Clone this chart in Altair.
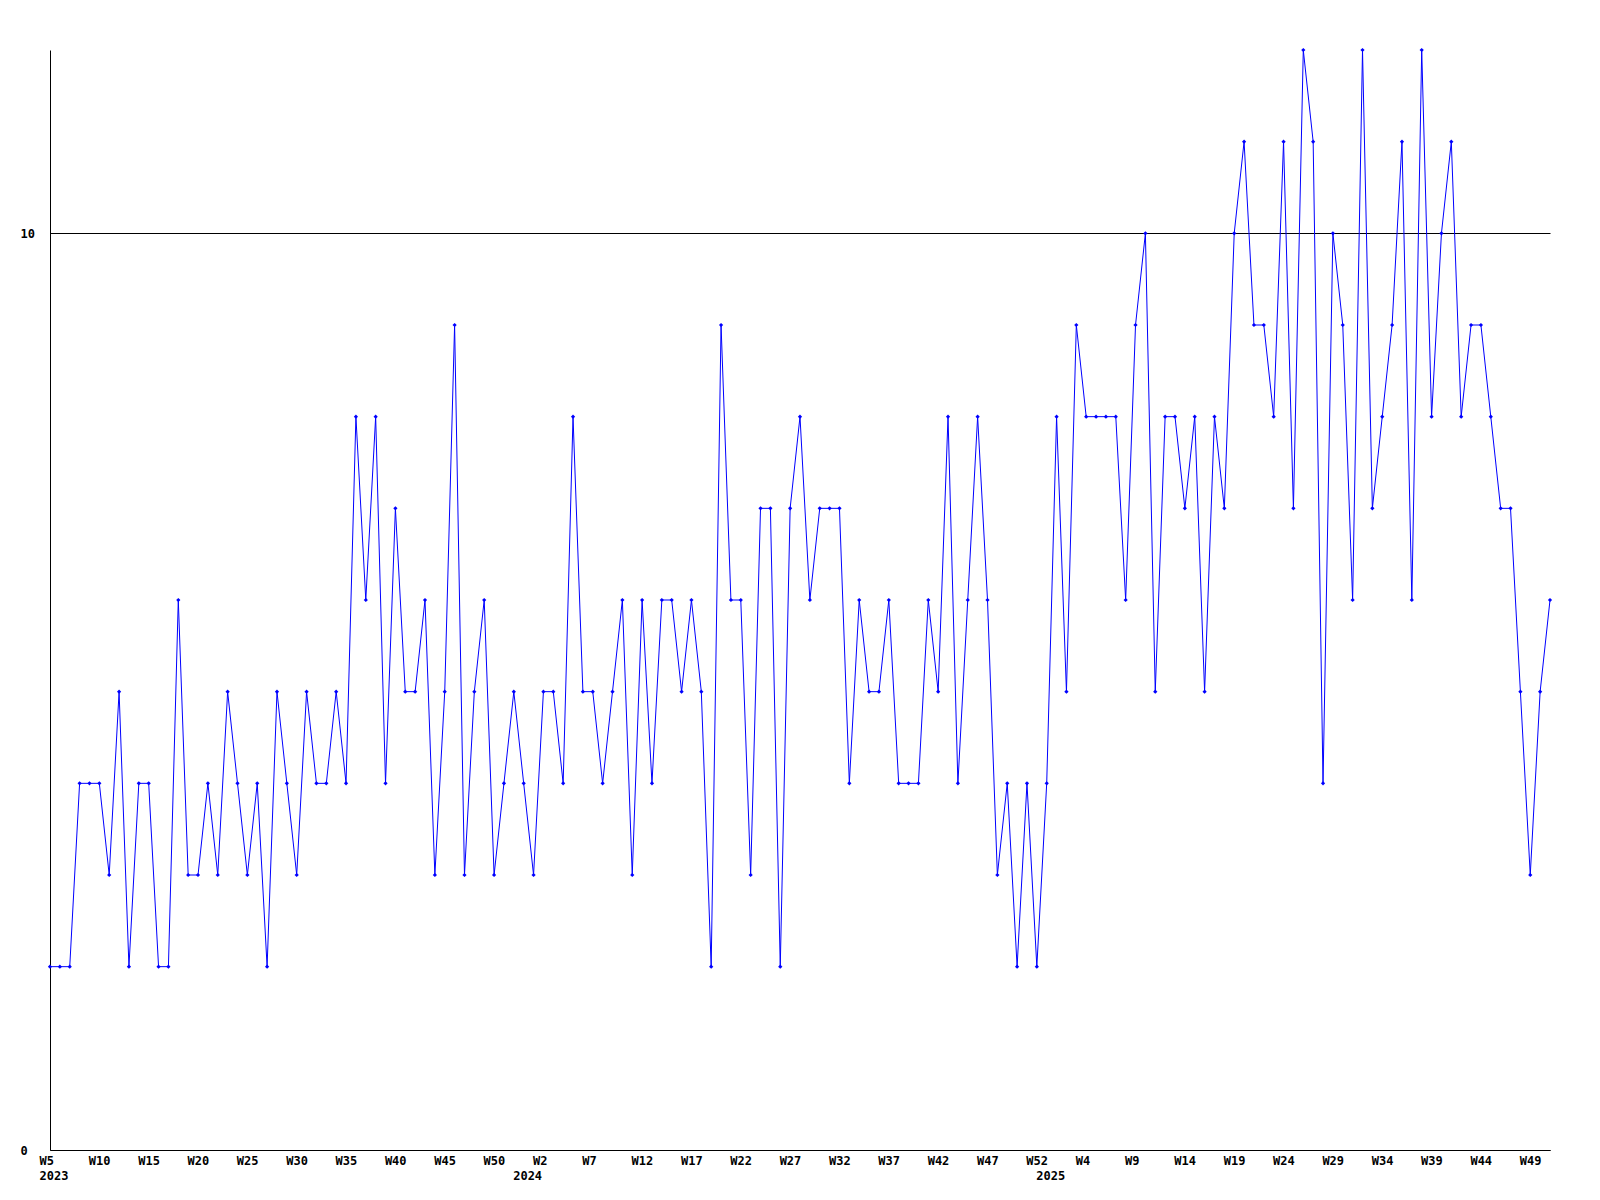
import altair as alt
import pandas as pd

# weekly values, one per week (2023 W5 .. 2025 W52, then one more week)
vals_2023 = [2, 2, 2, 4, 4, 4, 3, 5, 2, 4,
             4, 2, 2, 6, 3, 3, 4, 3, 5, 4,
             3, 4, 2, 5, 4, 3, 5, 4, 4, 5,
             4, 8, 6, 8, 4, 7, 5, 5, 6, 3,
             5, 9, 3, 5, 6, 3, 4, 5]
vals_2024 = [4, 3, 5, 5, 4, 8, 5, 5, 4, 5,
             6, 3, 6, 4, 6, 6, 5, 6, 5, 2,
             9, 6, 6, 3, 7, 7, 2, 7, 8, 6,
             7, 7, 7, 4, 6, 5, 5, 6, 4, 4,
             4, 6, 5, 8, 4, 6, 8, 6, 3, 4,
             2, 4]
vals_2025 = [2, 4, 8, 5, 9, 8, 8, 8, 8, 6,
             9, 10, 5, 8, 8, 7, 8, 5, 8, 7,
             10, 11, 9, 9, 8, 11, 7, 12, 11, 4,
             10, 9, 6, 12, 7, 8, 9, 11, 6, 12,
             8, 10, 11, 8, 9, 9, 8, 7, 7, 5,
             3, 5]
vals_2026 = [6]

week_tick_labels = ["W5", "W10", "W15", "W20", "W25", "W30", "W35", "W40", "W45", "W50",
                    "W2", "W7", "W12", "W17", "W22", "W27", "W32", "W37", "W42", "W47", "W52",
                    "W4", "W9", "W14", "W19", "W24", "W29", "W34", "W39", "W44", "W49"]
year_labels = ["2023", "2024", "2025"]
year_label_index = [0, 48, 101]

values = vals_2023 + vals_2024 + vals_2025 + vals_2026
df = pd.DataFrame({"i": list(range(len(values))), "v": values})

tick_index = [5 * k for k in range(len(week_tick_labels))]
week_expr = "[" + ",".join("'%s'" % s for s in week_tick_labels) + "][round(datum.value / 5)]"
year_expr = ("datum.value == %d ? '%s' : datum.value == %d ? '%s' : '%s'"
             % (year_label_index[0], year_labels[0], year_label_index[1], year_labels[1], year_labels[2]))

FONT = "DejaVu Sans Mono"
n = len(values)

x_scale = alt.Scale(domain=[0, n - 1], nice=False, zero=False)
y_enc = alt.Y("v:Q",
              scale=alt.Scale(domain=[0, 12], nice=False),
              axis=alt.Axis(values=[0, 10], title=None, grid=True, gridColor="#000000",
                            gridOpacity=1, gridWidth=1, ticks=False, tickSize=0,
                            domain=True, domainColor="#000000", domainWidth=1,
                            labelAlign="left", labelBaseline="middle", labelPadding=30,
                            labelFont=FONT, labelFontWeight="bold", labelFontSize=12,
                            labelColor="#000000", labelFlush=False, labelOverlap=False))

line = alt.Chart(df).mark_line(color="#0000ff", strokeWidth=1).encode(
    x=alt.X("i:Q", scale=x_scale,
            axis=alt.Axis(values=tick_index, labelExpr=week_expr, title=None, grid=False,
                          ticks=False, tickSize=0, domain=True, domainColor="#000000",
                          domainWidth=1, orient="bottom", labelAlign="left",
                          labelBaseline="top", labelPadding=5, labelOffset=-11,
                          labelFont=FONT, labelFontWeight="bold", labelFontSize=12,
                          labelColor="#000000", labelFlush=False, labelOverlap=False)),
    y=y_enc,
)

points = alt.Chart(df).mark_point(shape="diamond", filled=True, size=18,
                                  color="#0000ff", opacity=1).encode(
    x=alt.X("i:Q", scale=x_scale,
            axis=alt.Axis(values=year_label_index, labelExpr=year_expr, title=None, grid=False,
                          ticks=False, tickSize=0, domain=False, orient="bottom",
                          labelAlign="left", labelBaseline="top", labelPadding=20,
                          labelOffset=-11, labelFont=FONT, labelFontWeight="bold",
                          labelFontSize=12, labelColor="#000000", labelFlush=False,
                          labelOverlap=False)),
    y=y_enc,
)

chart = alt.layer(line, points).resolve_axis(x="independent").properties(
    width=1500,
    height=1100,
    autosize=alt.AutoSizeParams(type="none"),
    padding={"left": 42, "top": 42, "right": 30, "bottom": 40},
    background="#ffffff",
).configure_view(stroke="transparent")

chart.save("out.html", embed_options={"renderer": "svg", "actions": False})
